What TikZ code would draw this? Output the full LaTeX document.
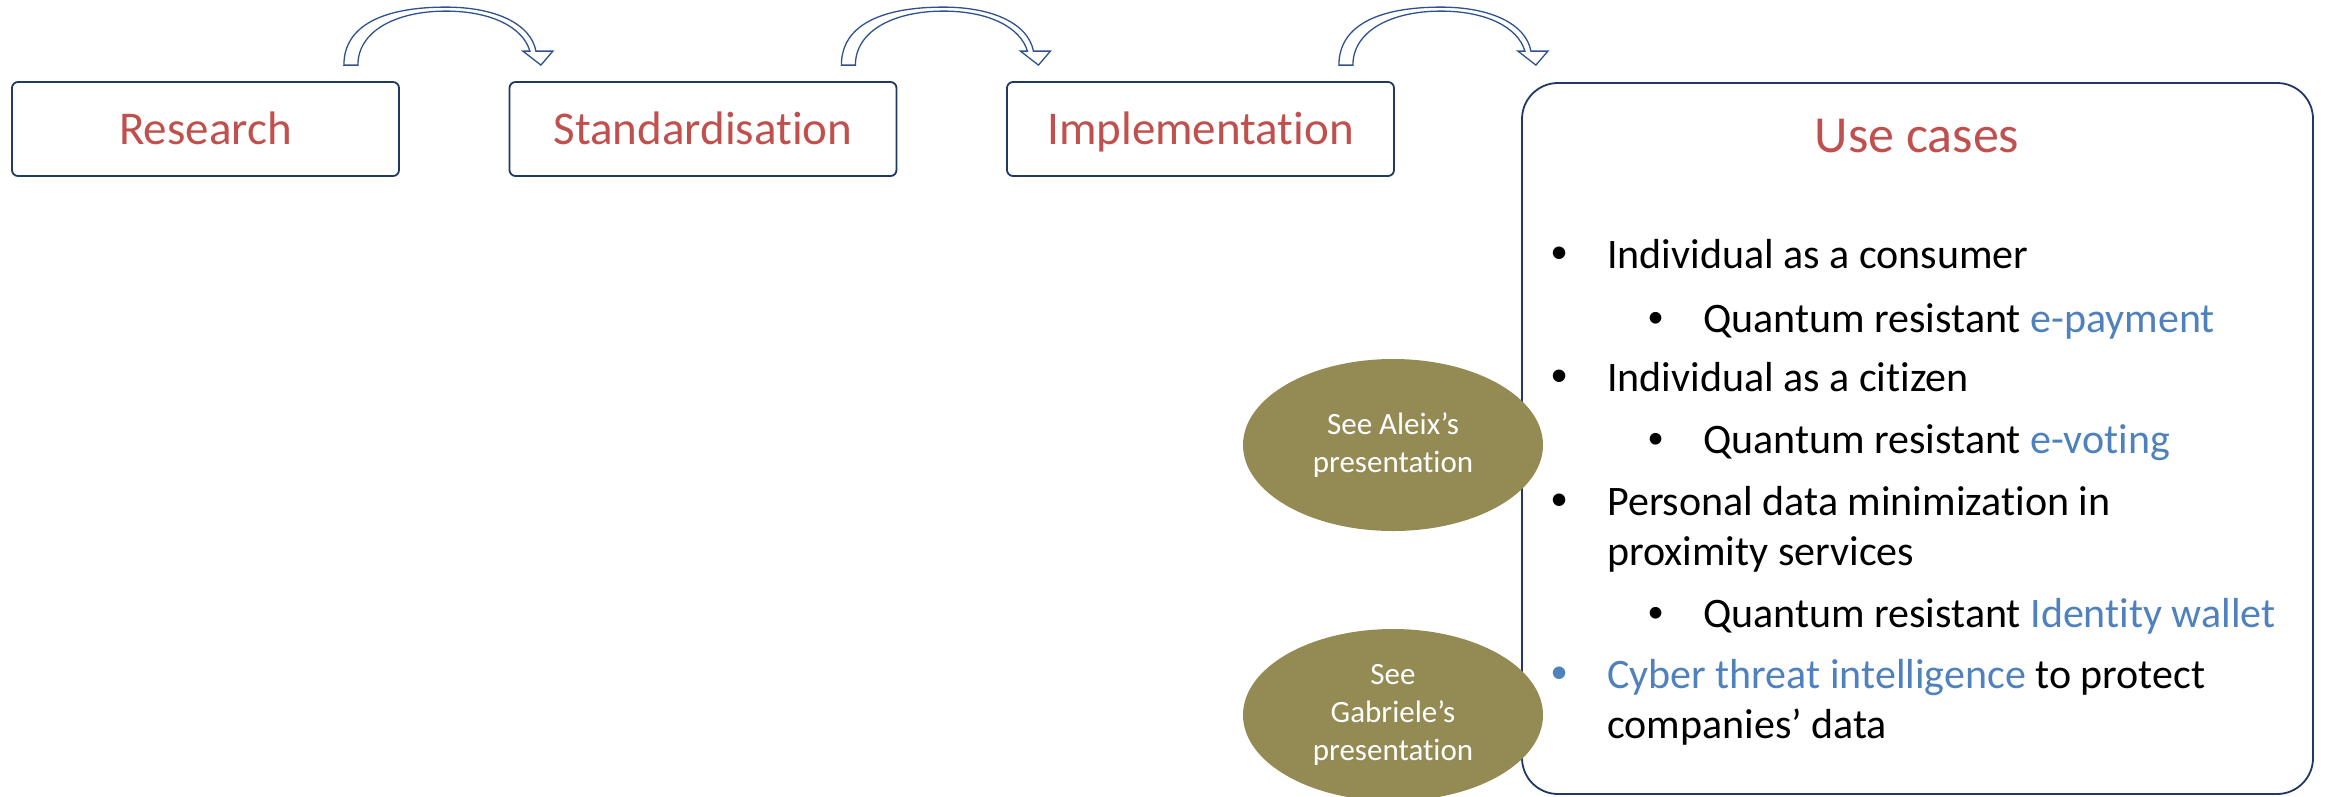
\documentclass[tikz,border=0pt]{standalone}
\usepackage{fontspec}
\setmainfont{Carlito}[RawFeature={-liga;-clig;-calt;-rlig}]
\newfontfamily\bulletfont{Liberation Sans}
\usetikzlibrary{shapes.geometric}

\definecolor{titlered}{RGB}{192,80,77}
\definecolor{linkblue}{RGB}{79,129,189}
\definecolor{framenavy}{RGB}{32,56,100}
\definecolor{arrowblue}{RGB}{47,82,143}
\definecolor{oliveblob}{RGB}{148,138,84}

\tikzset{
  stagebox/.style={draw=framenavy, line width=1.8pt, rounded corners=6pt,
    minimum width=387pt, minimum height=94pt, inner sep=0pt, text=titlered,
    font=\fontsize{47}{56}\selectfont, text height=40pt, text depth=10pt},
  casebox/.style={draw=framenavy, line width=1.8pt, rounded corners=36pt,
    minimum width=791pt, minimum height=711pt, inner sep=0pt},
  casetitle/.style={anchor=base, inner sep=0pt, text=titlered,
    font=\fontsize{52}{62}\selectfont},
  itemtext/.style={anchor=base west, inner sep=0pt, font=\fontsize{42}{50}\selectfont},
  bulleta/.style={anchor=base, inner sep=0pt, font=\bulletfont\fontsize{46}{50}\selectfont},
  bulletb/.style={anchor=base, inner sep=0pt, font=\bulletfont\fontsize{43}{48}\selectfont},
  blob/.style={ellipse, fill=oliveblob, minimum width=300pt, minimum height=172pt,
    inner sep=0pt, text=white, align=center, font=\fontsize{31}{38}\selectfont},
  bendarrow/.pic={
    \draw[arrowblue, line width=1.3pt, fill=white, line join=miter]
      (-111,-16) .. controls (-111,-57) and (-69,-74) .. (-9,-74)
      .. controls (41,-74) and (76,-57) .. (81,-30)
      -- (98,-30) -- (86,-16) -- (68,-30) -- (75,-30)
      .. controls (68,-54) and (36,-70) .. (-9,-70)
      .. controls (-59,-70) and (-97,-50) .. (-97,-16) -- cycle;
  }
}

\begin{document}
\begin{tikzpicture}[x=1pt, y=-1pt]
\useasboundingbox (0,0) rectangle (2328,796);

% pipeline stages
\node[stagebox] (res) at (205.5,129) {Research};
\node[stagebox] (std) at (703,129) {Standardisation};
\node[stagebox] (imp) at (1200.5,129) {Implementation};

% bent arrows between the stages
\pic at ([xshift=55pt]res.north east) {bendarrow};
\pic at ([xshift=55pt]std.north east) {bendarrow};
\pic at ([xshift=55pt]imp.north east) {bendarrow};

% use cases panel
\node[casebox] (cases) at (1917.5,438.5) {};
\node[casetitle] (casehead) at (1917,152) {Use cases};

\node[bulleta] (b1) at (1560,268) {•};
\node[itemtext] (l1) at (1607,268) {Individual as a consumer};
\node[bulletb] (b2) at (1656,332) {•};
\node[itemtext] (l2) at (1703,332) {Quantum resistant \textcolor{linkblue}{e-payment}};
\node[bulleta] (b3) at (1560,391) {•};
\node[itemtext] (l3) at (1607,391) {Individual as a citizen};
\node[bulletb] (b4) at (1656,453) {•};
\node[itemtext] (l4) at (1703,453) {Quantum resistant \textcolor{linkblue}{e-voting}};
\node[bulleta] (b5) at (1560,515) {•};
\node[itemtext] (l5) at (1607,515) {Personal data minimization in};
\node[itemtext] (l6) at (1607,565) {proximity services};
\node[bulletb] (b6) at (1656,627) {•};
\node[itemtext] (l7) at (1703,627) {Quantum resistant \textcolor{linkblue}{Identity wallet}};
\node[bulleta, text=linkblue] (b7) at (1560,688) {•};
\node[itemtext] (l8) at (1607,688) {\textcolor{linkblue}{Cyber threat intelligence} to protect};
\node[itemtext] (l9) at (1607,738) {companies’ data};

% pointers to other talks
\node[blob] (aleix) at (1393,445) {See Aleix’s\\presentation};
\node[blob] (gabriele) at (1393,715) {See\\Gabriele’s\\presentation};
\end{tikzpicture}
\end{document}
